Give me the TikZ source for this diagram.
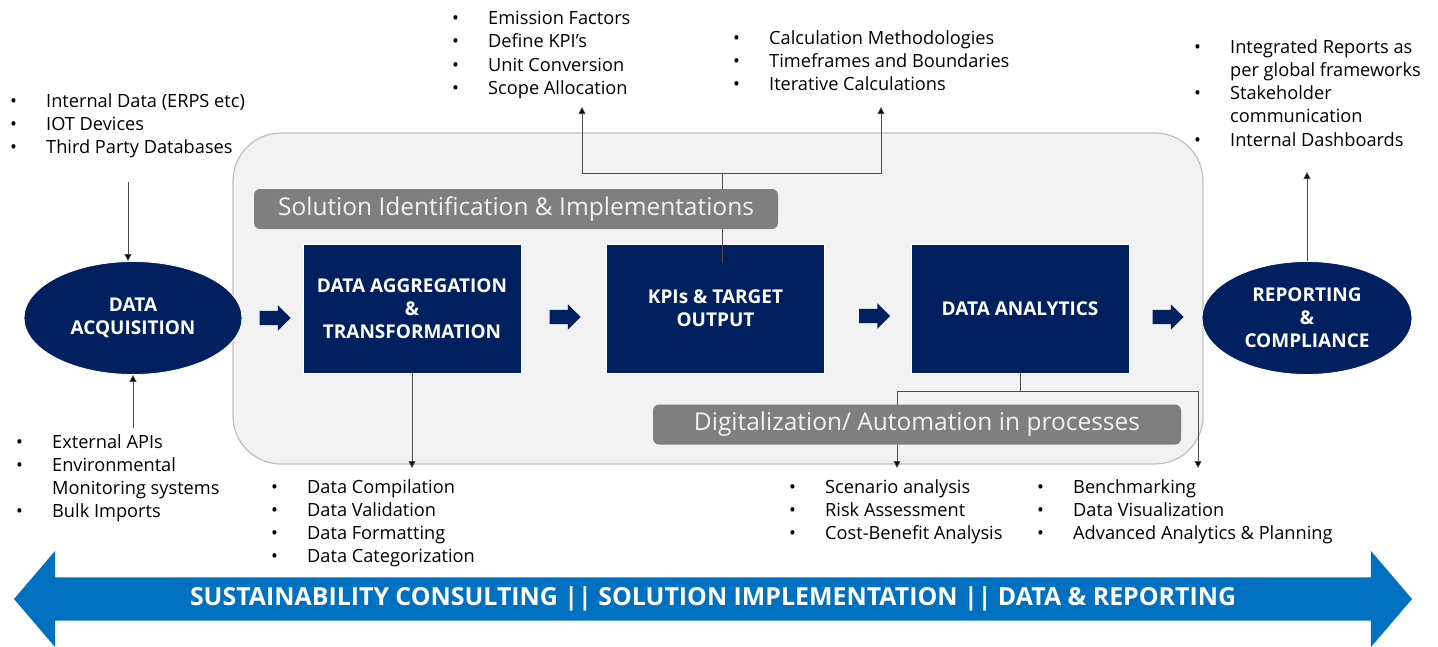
\documentclass[tikz,border=0pt]{standalone}
\usepackage{fontspec}
\setmainfont{Open Sans}
\usetikzlibrary{shapes.geometric,shapes.arrows,arrows.meta}
\definecolor{navy}{HTML}{002060}
\definecolor{panelgrey}{HTML}{F2F2F2}
\definecolor{panelline}{HTML}{BFBFBF}
\definecolor{bandgrey}{HTML}{7F7F7F}
\definecolor{bandtext}{HTML}{F2F2F2}
\definecolor{bigblue}{HTML}{0070C0}
\newcommand{\itm}{\makebox[36pt][l]{\textbullet}}
\newcommand{\cnt}{\makebox[36pt][l]{}}
\begin{document}
\begin{tikzpicture}[x=1pt,y=-1pt,
  stage/.style={rectangle,fill=navy,draw=white,line width=0.6pt,minimum width=218pt,minimum height=129pt,text=white,align=center,font=\bfseries\fontsize{19}{23}\selectfont},
  endpt/.style={ellipse,fill=navy,draw=white,line width=0.8pt,minimum width=218pt,minimum height=113pt,inner sep=0pt,text=white,align=center,font=\bfseries\fontsize{19}{23}\selectfont},
  band/.style={rounded corners=6pt,fill=bandgrey,text=bandtext,minimum height=40pt,font=\fontsize{24.5}{28}\selectfont},
  flow/.style={single arrow,fill=navy,minimum height=31pt,inner sep=7pt,single arrow head extend=5.5pt},
  lst/.style={anchor=north west,align=left,inner sep=0pt,font=\fontsize{18.2}{23.3}\selectfont},
  conn/.style={draw=black!70,line width=0.8pt,-{Triangle[length=7pt,width=7pt,fill=black]}},
  link/.style={draw=black!70,line width=0.8pt}]

\useasboundingbox (0,0) rectangle (1438,646);

\node[draw=panelline,fill=panelgrey,line width=1.2pt,rounded corners=48pt,minimum width=970pt,minimum height=331pt] (panel) at (718,298.5) {};

\node[endpt] (acq) at (133,318) {DATA\\ACQUISITION};
\node[stage] (agg) at (412,308.5) {DATA AGGREGATION\\\&\\TRANSFORMATION};
\node[stage] (kpi) at (715.5,308.5) {KPIs \& TARGET\\OUTPUT};
\node[stage] (ana) at (1020,308.5) {DATA ANALYTICS};
\node[endpt,minimum width=210pt] (rep) at (1307,318) {REPORTING\\\&\\COMPLIANCE};

\node[flow] (f1) at (271.5,318) {};
\node[flow] (f2) at (561.5,317) {};
\node[flow] (f3) at (871,316) {};
\node[flow] (f4) at (1164.5,317) {};

\node[lst] (srclist) at (10,93) {\itm Internal Data (ERPS etc)\\ \itm IOT Devices\\ \itm Third Party Databases};
\node[lst] (extlist) at (16,434) {\itm External APIs\\ \itm Environmental\\ \cnt Monitoring systems\\ \itm Bulk Imports};
\node[lst] (agglist) at (271,479) {\itm Data Compilation\\ \itm Data Validation\\ \itm Data Formatting\\ \itm Data Categorization};
\node[lst] (emislist) at (452,11) {\itm Emission Factors\\ \itm Define KPI’s\\ \itm Unit Conversion\\ \itm Scope Allocation};
\node[lst] (calclist) at (733,30) {\itm Calculation Methodologies\\ \itm Timeframes and Boundaries\\ \itm Iterative Calculations};
\node[lst] (replist) at (1194,39) {\itm Integrated Reports as\\ \cnt per global frameworks\\ \itm Stakeholder\\ \cnt communication\\ \itm Internal Dashboards};
\node[lst] (scenlist) at (789,479) {\itm Scenario analysis\\ \itm Risk Assessment\\ \itm Cost-Benefit Analysis};
\node[lst] (benchlist) at (1037,479) {\itm Benchmarking\\ \itm Data Visualization\\ \itm Advanced Analytics \& Planning};

\coordinate (srcin) at (128,182);
\coordinate (extout) at (133,428);
\coordinate (aggout) at (412,468);
\coordinate (kjoin) at ([xshift=6.5pt,yshift=70pt]kpi.north);
\coordinate (emisin) at (582,107);
\coordinate (calcin) at (881,107);
\coordinate (ajoin) at ([yshift=-18pt]ana.south);
\coordinate (scenin) at (897,468);
\coordinate (benchin) at (1198,468);
\coordinate (repout) at (1307,172);

\draw[conn] (srcin) -- (srcin |- acq.north);
\draw[conn] (extout) -- (acq.south);
\draw[conn] (agg.south) -- (aggout);
\draw[link] ([xshift=6.5pt,yshift=-19pt]kpi.north) -- (kjoin);
\draw[conn] (kjoin) -| (emisin);
\draw[conn] (kjoin) -| (calcin);
\draw[link] (ana.south) -- (ajoin);
\draw[conn] (ajoin) -| (scenin);
\draw[conn] (ajoin) -| (benchin);
\draw[conn] (rep.north) -- (repout);

\node[band,minimum width=524pt] (solution) at (516,209) {Solution Identification \& Implementations};
\node[band,minimum width=528pt] (digital) at (917,424.5) {Digitalization/ Automation in processes};

\node[double arrow,fill=bigblue,text=white,font=\bfseries\fontsize{24.9}{28}\selectfont,minimum height=1398pt,text height=17pt,text depth=5pt,inner ysep=10.5pt,double arrow head extend=26.5pt,double arrow tip angle=99] (scope) at (713,599) {SUSTAINABILITY CONSULTING || SOLUTION IMPLEMENTATION || DATA \& REPORTING};

\end{tikzpicture}
\end{document}
